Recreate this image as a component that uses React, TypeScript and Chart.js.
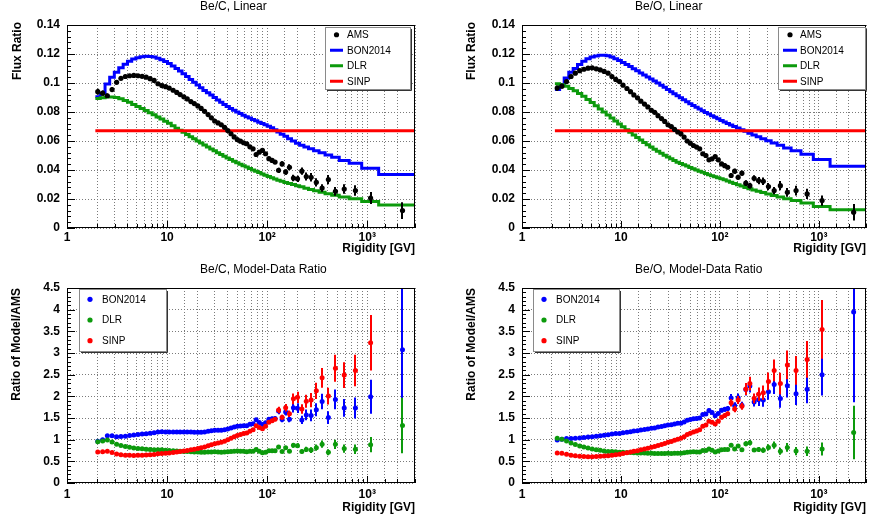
import React, { useEffect, useRef } from "react";
import { Chart, registerables } from "chart.js";

Chart.register(...registerables);

const FONT = "'Liberation Sans', Arial, Helvetica, sans-serif";

// AMS rigidity bins (GV)
const binEdges = [
  1.92, 2.15, 2.4, 2.67, 2.97, 3.29, 3.64, 4.02, 4.43, 4.88, 5.37, 5.9, 6.47, 7.09, 7.76, 8.48, 9.26,
  10.1, 11.0, 12.0, 13.0, 14.1, 15.3, 16.6, 18.0, 19.5, 21.1, 22.8, 24.7, 26.7, 28.8, 31.1, 33.5,
  36.1, 38.9, 41.9, 45.1, 48.5, 52.2, 56.1, 60.3, 64.8, 69.7, 74.9, 80.5, 86.5, 93.0, 100, 108, 116,
  125, 135, 147, 160, 175, 192, 211, 233, 259, 291, 330, 379, 441, 525, 660, 880, 1300, 3300,
];
const binCenters = [
  2.03, 2.27, 2.53, 2.82, 3.13, 3.46, 3.83, 4.22, 4.65, 5.12, 5.63, 6.18, 6.77, 7.42, 8.11, 8.86, 9.67,
  10.5, 11.5, 12.5, 13.5, 14.7, 15.9, 17.3, 18.7, 20.3, 21.9, 23.7, 25.7, 27.7, 29.9, 32.3, 34.8,
  37.5, 40.4, 43.5, 46.8, 50.3, 54.1, 58.2, 62.5, 67.2, 72.3, 77.6, 83.4, 89.7, 96.4, 104, 112, 120,
  130, 141, 153, 167, 183, 201, 222, 246, 275, 310, 354, 409, 481, 589, 762, 1080, 2250,
];

// ---- Be/C ----
const beC_ams = [
  0.094, 0.093, 0.0912, 0.0955, 0.1005, 0.1032, 0.1045, 0.105, 0.1052, 0.105,
  0.1046, 0.104, 0.103, 0.1018, 0.0995, 0.0982, 0.0975, 0.0965, 0.095, 0.0935,
  0.092, 0.0905, 0.089, 0.0872, 0.0858, 0.0842, 0.0825, 0.0805, 0.0782, 0.076,
  0.0738, 0.0725, 0.0712, 0.0694, 0.0672, 0.065, 0.0628, 0.061, 0.0599, 0.0588,
  0.0581, 0.056, 0.0546, 0.0507, 0.0523, 0.0535, 0.0512, 0.0478, 0.0466, 0.0455,
  0.0398, 0.0442, 0.0386, 0.0419, 0.0345, 0.0339, 0.0392, 0.0355, 0.035, 0.0315,
  0.0276, 0.0334, 0.0253, 0.0269, 0.0258, 0.0207, 0.012,
];
const beC_amsErr = [
  0.002, 0.0018, 0.0016, 0.0015, 0.0012, 0.0012, 0.0012, 0.0012, 0.0012, 0.0012,
  0.0012, 0.0012, 0.0012, 0.0012, 0.0012, 0.0012, 0.0012, 0.001, 0.001, 0.001,
  0.001, 0.001, 0.001, 0.001, 0.001, 0.001, 0.001, 0.001, 0.001, 0.001,
  0.0011, 0.0011, 0.0011, 0.0011, 0.0011, 0.0011, 0.0011, 0.0011, 0.0011, 0.0011,
  0.0012, 0.0012, 0.0012, 0.0012, 0.0012, 0.0012, 0.0012, 0.0014, 0.0014, 0.0014,
  0.0018, 0.0018, 0.0019, 0.002, 0.0022, 0.0022, 0.0025, 0.0028, 0.003, 0.0028,
  0.0026, 0.0032, 0.003, 0.0032, 0.0036, 0.0041, 0.0058,
];
const beC_bon = [
  0.0905, 0.093, 0.0993, 0.104, 0.1075, 0.1105, 0.113, 0.115, 0.1165, 0.1175,
  0.1181, 0.1184, 0.1183, 0.1179, 0.1171, 0.1161, 0.1149, 0.1134, 0.1117, 0.11,
  0.1083, 0.1064, 0.1045, 0.1025, 0.1006, 0.0986, 0.0967, 0.0948, 0.0932, 0.0918,
  0.09, 0.0883, 0.0867, 0.0852, 0.0838, 0.0825, 0.0812, 0.08, 0.0789, 0.0778,
  0.0768, 0.0758, 0.0748, 0.0739, 0.073, 0.0721, 0.0712, 0.0702, 0.0691, 0.0677,
  0.0662, 0.0647, 0.0632, 0.0616, 0.06, 0.0585, 0.0571, 0.0558, 0.0546, 0.0533,
  0.0519, 0.0504, 0.0488, 0.0466, 0.0447, 0.0412, 0.0369,
];
const beC_dlr = [
  0.0893, 0.0899, 0.0903, 0.0903, 0.09, 0.0892, 0.088, 0.0867, 0.0852, 0.0838,
  0.0824, 0.081, 0.0795, 0.0781, 0.0766, 0.0752, 0.0737, 0.0722, 0.0705, 0.0688,
  0.0674, 0.066, 0.0645, 0.063, 0.0615, 0.06, 0.0586, 0.0572, 0.0558, 0.0545,
  0.0532, 0.0519, 0.0507, 0.0495, 0.0483, 0.0472, 0.0461, 0.045, 0.044, 0.043,
  0.042, 0.041, 0.04, 0.0391, 0.0382, 0.0373, 0.0364, 0.0355, 0.0346, 0.0338,
  0.033, 0.0322, 0.0314, 0.0307, 0.03, 0.0292, 0.0284, 0.0275, 0.0266, 0.0257,
  0.0247, 0.0237, 0.0226, 0.0214, 0.0201, 0.0183, 0.0159,
];
const beC_sinp = 0.067;

// ---- Be/O (bins start at 2.15 GV) ----
const beO_edges = binEdges.slice(1);
const beO_centers = binCenters.slice(1);
const beO_ams = [
  0.0965, 0.0978, 0.101, 0.1045, 0.1068, 0.1085, 0.1095, 0.1102, 0.1105, 0.1098,
  0.109, 0.108, 0.1068, 0.1045, 0.1025, 0.101, 0.0985, 0.0962, 0.094, 0.0918,
  0.0898, 0.0875, 0.0855, 0.0835, 0.0812, 0.0798, 0.0775, 0.0755, 0.0735, 0.0712,
  0.07, 0.068, 0.0662, 0.065, 0.0627, 0.06, 0.0585, 0.0569, 0.0558, 0.0546,
  0.0512, 0.05, 0.047, 0.0477, 0.0493, 0.047, 0.0442, 0.043, 0.0419, 0.0362,
  0.0392, 0.035, 0.0378, 0.0309, 0.0292, 0.0343, 0.0327, 0.0322, 0.0286, 0.0258,
  0.0292, 0.0246, 0.0258, 0.0235, 0.0189, 0.0108,
];
const beO_amsErr = [
  0.0018, 0.0016, 0.0015, 0.0012, 0.0012, 0.0012, 0.0012, 0.0012, 0.0012, 0.0012,
  0.0012, 0.0012, 0.0012, 0.0012, 0.0012, 0.0012, 0.001, 0.001, 0.001, 0.001,
  0.001, 0.001, 0.001, 0.001, 0.001, 0.001, 0.001, 0.001, 0.001, 0.001,
  0.001, 0.001, 0.001, 0.001, 0.001, 0.001, 0.001, 0.001, 0.001, 0.0012,
  0.0012, 0.0012, 0.0012, 0.0012, 0.0012, 0.0012, 0.0014, 0.0014, 0.0014, 0.0017,
  0.0017, 0.0017, 0.0017, 0.002, 0.002, 0.002, 0.0025, 0.0026, 0.0025, 0.0025,
  0.0032, 0.003, 0.0033, 0.0035, 0.0036, 0.0057,
];
const beO_bon = [
  0.0955, 0.0985, 0.1035, 0.1075, 0.11, 0.1128, 0.115, 0.1167, 0.118, 0.1187,
  0.1191, 0.1191, 0.1188, 0.118, 0.1168, 0.1155, 0.1142, 0.1128, 0.1113, 0.1099,
  0.1084, 0.1069, 0.1055, 0.1042, 0.1028, 0.1014, 0.1, 0.0985, 0.097, 0.0955,
  0.094, 0.0926, 0.0912, 0.0898, 0.0884, 0.087, 0.0857, 0.0844, 0.0832, 0.082,
  0.0808, 0.0797, 0.0786, 0.0775, 0.0764, 0.0753, 0.0742, 0.0731, 0.0721, 0.071,
  0.07, 0.0689, 0.0678, 0.0667, 0.0654, 0.0642, 0.0629, 0.0616, 0.0602, 0.0587,
  0.057, 0.0552, 0.0532, 0.0508, 0.0472, 0.0426,
];
const beO_dlr = [
  0.0995, 0.0988, 0.0978, 0.0962, 0.0946, 0.0928, 0.0908, 0.0887, 0.0865, 0.0843,
  0.0821, 0.08, 0.0779, 0.0758, 0.0738, 0.0718, 0.0698, 0.0678, 0.066, 0.0642,
  0.0624, 0.0607, 0.059, 0.0574, 0.0558, 0.0543, 0.0529, 0.0515, 0.0502, 0.0489,
  0.0477, 0.0465, 0.0454, 0.0445, 0.0436, 0.0427, 0.0418, 0.0409, 0.04, 0.0392,
  0.0384, 0.0376, 0.0368, 0.036, 0.0353, 0.0346, 0.0339, 0.0332, 0.0325, 0.0316,
  0.0307, 0.0298, 0.0289, 0.028, 0.0271, 0.0262, 0.0253, 0.0244, 0.0235, 0.0225,
  0.0214, 0.0202, 0.019, 0.0172, 0.0148, 0.0126,
];
const beO_sinp = 0.067;

// axis ticks
const xTickValues = [1, 10, 100, 1000];
const xTickLabels = ["1", "10", "10\u00B2", "10\u00B3"];
const xRange = [1, 3000];
const fluxRange = [0, 0.14];
const ratioRange = [0, 4.5];

const BLUE = "#0000ff";
const GREEN = "#0c9a0c";
const RED = "#ff0000";
const BLACK = "#000000";
const GRID = "#7a7a7a";

type Pt = { x: number; y: number };

function stepPoints(edges: number[], vals: number[]): Pt[] {
  const pts = vals.map((v, i) => ({ x: edges[i], y: v }));
  pts.push({ x: edges[vals.length], y: vals[vals.length - 1] });
  return pts;
}
function flatPoints(edges: number[], v: number): Pt[] {
  return [
    { x: edges[0], y: v },
    { x: edges[edges.length - 1], y: v },
  ];
}
function points(xs: number[], ys: number[]): Pt[] {
  return xs.map((x, i) => ({ x, y: ys[i] }));
}
function ratioSet(label: string, color: string, order: number, xs: number[], model: (i: number) => number, ams: number[], err: number[]) {
  const data = xs.map((x, i) => ({ x, y: model(i) / ams[i] }));
  const errs = xs.map((_, i) => (model(i) / ams[i]) * (err[i] / ams[i]));
  return {
    type: "scatter",
    label,
    data,
    errs,
    order,
    clip: 0,
    legendType: "dot",
    pointRadius: 2.5,
    pointBackgroundColor: color,
    pointBorderWidth: 0,
    borderColor: color,
    showLine: false,
  };
}
function lineSet(label: string, color: string, order: number, data: Pt[]) {
  return {
    type: "line",
    label,
    data,
    order,
    clip: 0,
    legendType: "line",
    stepped: true,
    borderColor: color,
    borderWidth: 3,
    pointRadius: 0,
    fill: false,
    tension: 0,
  };
}
function amsSet(xs: number[], ys: number[], err: number[]) {
  return {
    type: "scatter",
    label: "AMS",
    data: points(xs, ys),
    errs: err,
    order: 0,
    clip: 0,
    legendType: "dot",
    pointRadius: 2.6,
    pointBackgroundColor: BLACK,
    pointBorderWidth: 0,
    borderColor: BLACK,
    showLine: false,
  };
}

type Spec = {
  title: string;
  yTitle: string;
  xTitle: string;
  yRange: number[];
  yStep: number;
  yMinor: number;
  padTop: number;
  padRight: number;
  yWidth: number;
  xHeight: number;
  xTickPad: number;
  titleY: number;
  yTitleX: number;
  yTitleTop: number;
  xTitleY: number;
  legend: { x: number; y: number; w: number; h: number; l0: number; l1: number; mark: number; text: number };
  datasets: any[];
};

const panels: { left: number; top: number; spec: Spec }[] = [
  {
    left: 0,
    top: 0,
    spec: {
      title: "Be/C, Linear",
      yTitle: "Flux Ratio",
      xTitle: "Rigidity [GV]",
      yRange: fluxRange,
      yStep: 0.02,
      yMinor: 0.004,
      padTop: 25,
      padRight: 20,
      yWidth: 67,
      xHeight: 32,
      xTickPad: 2,
      titleY: 7,
      yTitleX: 18,
      yTitleTop: 22,
      xTitleY: 249,
      legend: { x: 325, y: 27, w: 85, h: 62, l0: 5, l1: 18, mark: 11.5, text: 22 },
      datasets: [
        amsSet(binCenters, beC_ams, beC_amsErr),
        lineSet("BON2014", BLUE, 3, stepPoints(binEdges, beC_bon)),
        lineSet("DLR", GREEN, 2, stepPoints(binEdges, beC_dlr)),
        lineSet("SINP", RED, 1, flatPoints(binEdges, beC_sinp)),
      ],
    },
  },
  {
    left: 435,
    top: 0,
    spec: {
      title: "Be/O, Linear",
      yTitle: "Flux Ratio",
      xTitle: "Rigidity [GV]",
      yRange: fluxRange,
      yStep: 0.02,
      yMinor: 0.004,
      padTop: 25,
      padRight: 1,
      yWidth: 87,
      xHeight: 32,
      xTickPad: 2,
      titleY: 7,
      yTitleX: 37,
      yTitleTop: 22,
      xTitleY: 249,
      legend: { x: 343, y: 27, w: 87, h: 62, l0: 5, l1: 19, mark: 12, text: 22 },
      datasets: [
        amsSet(beO_centers, beO_ams, beO_amsErr),
        lineSet("BON2014", BLUE, 3, stepPoints(beO_edges, beO_bon)),
        lineSet("DLR", GREEN, 2, stepPoints(beO_edges, beO_dlr)),
        lineSet("SINP", RED, 1, flatPoints(beO_edges, beO_sinp)),
      ],
    },
  },
  {
    left: 0,
    top: 260,
    spec: {
      title: "Be/C, Model-Data Ratio",
      yTitle: "Ratio of Model/AMS",
      xTitle: "Rigidity [GV]",
      yRange: ratioRange,
      yStep: 0.5,
      yMinor: 0.1,
      padTop: 28,
      padRight: 20,
      yWidth: 67,
      xHeight: 37,
      xTickPad: 4,
      titleY: 10,
      yTitleX: 17,
      yTitleTop: 28,
      xTitleY: 248,
      legend: { x: 79, y: 29, w: 87, h: 62, l0: 5, l1: 18, mark: 11, text: 23 },
      datasets: [
        ratioSet("BON2014", BLUE, 2, binCenters, (i) => beC_bon[i], beC_ams, beC_amsErr),
        ratioSet("DLR", GREEN, 1, binCenters, (i) => beC_dlr[i], beC_ams, beC_amsErr),
        ratioSet("SINP", RED, 0, binCenters, () => beC_sinp, beC_ams, beC_amsErr),
      ],
    },
  },
  {
    left: 435,
    top: 260,
    spec: {
      title: "Be/O, Model-Data Ratio",
      yTitle: "Ratio of Model/AMS",
      xTitle: "Rigidity [GV]",
      yRange: ratioRange,
      yStep: 0.5,
      yMinor: 0.1,
      padTop: 28,
      padRight: 1,
      yWidth: 87,
      xHeight: 37,
      xTickPad: 4,
      titleY: 10,
      yTitleX: 37,
      yTitleTop: 28,
      xTitleY: 248,
      legend: { x: 98, y: 29, w: 86, h: 62, l0: 5, l1: 18, mark: 11, text: 23 },
      datasets: [
        ratioSet("BON2014", BLUE, 2, beO_centers, (i) => beO_bon[i], beO_ams, beO_amsErr),
        ratioSet("DLR", GREEN, 1, beO_centers, (i) => beO_dlr[i], beO_ams, beO_amsErr),
        ratioSet("SINP", RED, 0, beO_centers, () => beO_sinp, beO_ams, beO_amsErr),
      ],
    },
  },
];

function xLabel(v: number): string {
  for (let k = 0; k < xTickValues.length; k++) {
    if (Math.abs(v - xTickValues[k]) / xTickValues[k] < 1e-6) return xTickLabels[k];
  }
  return "";
}

function makePlugin(spec: Spec) {
  return {
    id: "rootStyle",
    beforeDatasetDraw(chart: any, args: any) {
      const ds: any = chart.data.datasets[args.index];
      if (!ds.errs) return;
      const xs = chart.scales.x;
      const ys = chart.scales.y;
      const a = chart.chartArea;
      const ctx = chart.ctx;
      ctx.save();
      ctx.beginPath();
      ctx.rect(a.left, a.top, a.right - a.left, a.bottom - a.top);
      ctx.clip();
      ctx.strokeStyle = ds.pointBackgroundColor;
      ctx.lineWidth = 2;
      ds.data.forEach((p: Pt, i: number) => {
        if (p.y < ys.min || p.y > ys.max || p.x < xs.min || p.x > xs.max) return;
        const px = Math.round(xs.getPixelForValue(p.x));
        ctx.beginPath();
        ctx.moveTo(px, ys.getPixelForValue(p.y - ds.errs[i]));
        ctx.lineTo(px, ys.getPixelForValue(p.y + ds.errs[i]));
        ctx.stroke();
      });
      ctx.restore();
    },
    afterDraw(chart: any) {
      const ctx = chart.ctx;
      const a = chart.chartArea;
      const xs = chart.scales.x;
      const ys = chart.scales.y;
      ctx.save();
      // frame
      ctx.strokeStyle = "#000";
      ctx.lineWidth = 1;
      const L0 = Math.round(a.left), T0 = Math.round(a.top), R0 = Math.round(a.right), B0 = Math.round(a.bottom);
      ctx.strokeRect(L0 + 0.5, T0 + 0.5, R0 - L0 - 1, B0 - T0 - 1);
      // y ticks
      ctx.beginPath();
      const n = Math.round((spec.yRange[1] - spec.yRange[0]) / spec.yMinor);
      for (let k = 0; k <= n; k++) {
        const v = spec.yRange[0] + k * spec.yMinor;
        const r = v / spec.yStep;
        const major = Math.abs(r - Math.round(r)) < 1e-6;
        const py = Math.round(ys.getPixelForValue(v)) + 0.5;
        ctx.moveTo(L0, py);
        ctx.lineTo(L0 + (major ? 8 : 4), py);
      }
      // x ticks
      xs.ticks.forEach((t: any) => {
        const v = t.value;
        const lg = Math.log10(v);
        const major = Math.abs(lg - Math.round(lg)) < 1e-6;
        const px = Math.round(xs.getPixelForValue(v)) + 0.5;
        ctx.moveTo(px, B0);
        ctx.lineTo(px, B0 - (major ? 7 : 4));
      });
      ctx.stroke();
      // titles
      ctx.fillStyle = "#000";
      ctx.font = `12px ${FONT}`;
      ctx.textAlign = "left";
      ctx.textBaseline = "middle";
      ctx.fillText(spec.title, 200, spec.titleY);
      ctx.font = `bold 12px ${FONT}`;
      ctx.textAlign = "right";
      ctx.fillText(spec.xTitle, R0, spec.xTitleY);
      ctx.save();
      ctx.translate(spec.yTitleX, spec.yTitleTop);
      ctx.rotate(-Math.PI / 2);
      ctx.textAlign = "right";
      ctx.textBaseline = "middle";
      ctx.fillText(spec.yTitle, 0, 0);
      ctx.restore();
      // legend
      const lg = spec.legend;
      ctx.fillStyle = "#fff";
      ctx.fillRect(lg.x, lg.y, lg.w, lg.h);
      ctx.strokeStyle = "#8a8a8a";
      ctx.lineWidth = 1;
      ctx.strokeRect(lg.x + 0.5, lg.y + 0.5, lg.w, lg.h);
      ctx.strokeStyle = "#333";
      ctx.beginPath();
      ctx.moveTo(lg.x + lg.w + 1.5, lg.y + 2);
      ctx.lineTo(lg.x + lg.w + 1.5, lg.y + lg.h + 1.5);
      ctx.lineTo(lg.x + 2, lg.y + lg.h + 1.5);
      ctx.stroke();
      const entries = chart.data.datasets.filter((d: any) => d.label);
      entries.forEach((d: any, i: number) => {
        const cy = lg.y + ((i + 0.5) * lg.h) / entries.length;
        if (d.legendType === "line") {
          ctx.strokeStyle = d.borderColor;
          ctx.lineWidth = 3;
          ctx.beginPath();
          ctx.moveTo(lg.x + lg.l0, cy);
          ctx.lineTo(lg.x + lg.l1, cy);
          ctx.stroke();
        } else {
          ctx.fillStyle = d.pointBackgroundColor;
          ctx.beginPath();
          ctx.arc(lg.x + lg.mark, cy, 2.6, 0, Math.PI * 2);
          ctx.fill();
        }
        ctx.fillStyle = "#000";
        ctx.font = `10px ${FONT}`;
        ctx.textAlign = "left";
        ctx.textBaseline = "middle";
        ctx.fillText(d.label, lg.x + lg.text, cy + 0.5);
      });
      ctx.restore();
    },
  };
}

function Panel({ spec }: { spec: Spec }) {
  const ref = useRef<HTMLCanvasElement | null>(null);
  useEffect(() => {
    if (!ref.current) return;
    const tickFont = { family: FONT, size: 12, weight: "bold" as const };
    const chart = new Chart(ref.current, {
      type: "scatter",
      data: { datasets: spec.datasets as any },
      plugins: [makePlugin(spec) as any],
      options: {
        responsive: false,
        animation: false,
        devicePixelRatio: 1,
        events: [],
        layout: { padding: { top: spec.padTop, right: spec.padRight, left: 0, bottom: 0 } },
        plugins: { legend: { display: false }, tooltip: { enabled: false }, title: { display: false } },
        scales: {
          x: {
            type: "logarithmic",
            min: xRange[0],
            max: xRange[1],
            afterFit: (s: any) => {
              s.height = spec.xHeight;
            },
            grid: { color: GRID, lineWidth: 1, drawTicks: false, borderDash: [1, 2] } as any,
            border: { display: false, dash: [1, 2] },
            ticks: {
              autoSkip: false,
              maxRotation: 0,
              minRotation: 0,
              padding: spec.xTickPad,
              color: "#000",
              font: tickFont,
              callback: (v: any) => xLabel(Number(v)),
            },
          },
          y: {
            type: "linear",
            min: spec.yRange[0],
            max: spec.yRange[1],
            afterFit: (s: any) => {
              s.width = spec.yWidth;
            },
            grid: { color: GRID, lineWidth: 1, drawTicks: false, borderDash: [1, 2] } as any,
            border: { display: false, dash: [1, 2] },
            ticks: {
              stepSize: spec.yStep,
              padding: 7,
              color: "#000",
              font: tickFont,
              callback: (v: any) => String(+Number(v).toFixed(2)),
            },
          },
        },
      } as any,
    });
    return () => chart.destroy();
  }, [spec]);
  return <canvas ref={ref} width={435} height={260} style={{ display: "block", width: 435, height: 260 }} />;
}

export default function App() {
  return (
    <div style={{ position: "absolute", left: 0, top: 0, width: 870, height: 520, background: "#fff", overflow: "hidden" }}>
      {panels.map((p, i) => (
        <div key={i} style={{ position: "absolute", left: p.left, top: p.top, width: 435, height: 260 }}>
          <Panel spec={p.spec} />
        </div>
      ))}
    </div>
  );
}
